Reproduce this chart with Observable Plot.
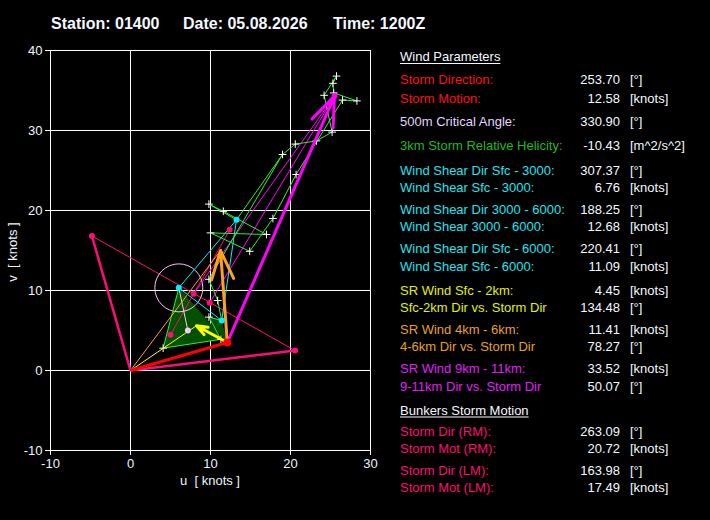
<!DOCTYPE html>
<html><head><meta charset="utf-8">
<script src="https://cdn.jsdelivr.net/npm/d3@7"></script>
<script src="https://cdn.jsdelivr.net/npm/@observablehq/plot@0.6"></script>
<style>
html,body{margin:0;padding:0;background:#000;}
#wrap{position:relative;width:710px;height:520px;background:#000;overflow:hidden;font-family:"Liberation Sans",Arial,sans-serif;}
#chart{position:absolute;left:0;top:0;}
svg.overlay{position:absolute;left:0;top:0;pointer-events:none;}
</style></head><body><div id="wrap"><div id="chart"></div></div>
<script>
// ---------- data ----------
const station = "01400", date = "05.08.2026", time = "1200Z";
const xTicks = [-10, 0, 10, 20, 30];
const yTicks = [-10, 0, 10, 20, 30, 40];
const xLabel = "u  [ knots ]", yLabel = "v  [ knots ]";

// wind hodograph (u, v in knots), with marker flag
const hodoU = [6.04, 4.08, 11.3, 9.8, 11.4, 10.9, 9.8, 19.0, 20.6, 23.25, 25.2, 24.2, 25.75, 25.3, 25.4, 28.3, 26.5, 20.7, 17.8, 14.9, 10.0, 17.0, 11.6, 9.8, 13.25, 19.0];
const hodoV = [10.33, 2.79, 3.9, 6.67, 6.25, 8.75, 11.4, 27.0, 28.3, 28.7, 29.8, 34.4, 36.8, 35.9, 34.7, 33.7, 33.8, 24.5, 19.0, 14.9, 17.2, 17.0, 19.9, 20.8, 18.83, 27.0];
const hodoMark = [0,1,1,1,0,1,1,1,1,1,1,1,1,1,1,1,1,1,1,1,1,1,1,1,0,0];

// key vectors
const sfcWind = [6.04, 10.33];
const wind3km = [11.4, 6.25];
const wind6km = [13.25, 18.83];
const stormMotion = [12.1, 3.5];
const bunkersRM = [20.57, 2.49];
const bunkersLM = [-4.82, 16.81];
const meanWinds = [[7.9, 9.6], [9.9, 8.46], [5.0, 4.46], [12.4, 17.58]];
const srSfc2km = [8.25, 5.6];
const sr4to6km = [11.25, 15.0];
const sr9to11km = [25.5, 34.3];
const critPoint = [7.17, 5.0];
const critCircleRadius = 3;

// text panel
const panelHeads = ["Wind Parameters", "Bunkers Storm Motion"];
const paramLabels = ["Storm Direction:", "Storm Motion:", "500m Critical Angle:", "3km Storm Relative Helicity:",
  "Wind Shear Dir Sfc - 3000:", "Wind Shear Sfc - 3000:", "Wind Shear Dir 3000 - 6000:", "Wind Shear 3000 - 6000:",
  "Wind Shear Dir Sfc - 6000:", "Wind Shear Sfc - 6000:", "SR Wind Sfc - 2km:", "Sfc-2km Dir vs. Storm Dir",
  "SR Wind 4km - 6km:", "4-6km Dir vs. Storm Dir", "SR Wind 9km - 11km:", "9-11km Dir vs. Storm Dir",
  "Storm Dir (RM):", "Storm Mot (RM):", "Storm Dir (LM):", "Storm Mot (LM):"];
const paramValues = ["253.70", "12.58", "330.90", "-10.43", "307.37", "6.76", "188.25", "12.68", "220.41", "11.09",
  "4.45", "134.48", "11.41", "78.27", "33.52", "50.07", "263.09", "20.72", "163.98", "17.49"];
const paramUnits = ["[°]", "[knots]", "[°]", "[m^2/s^2]", "[°]", "[knots]", "[°]", "[knots]", "[°]", "[knots]",
  "[knots]", "[°]", "[knots]", "[°]", "[knots]", "[°]", "[°]", "[knots]", "[°]", "[knots]"];

// ---------- styles / layout ----------
const C = {red: "#ff1010", lav: "#e4d4ff", green: "#22b822", cyan: "#22e4f0", yellow: "#e4f000",
  orange: "#e8a020", magenta: "#e020f4", crimson: "#ff0c70"};
const rowColors = [C.red, C.red, C.lav, C.green, C.cyan, C.cyan, C.cyan, C.cyan, C.cyan, C.cyan,
  C.yellow, C.yellow, C.orange, C.orange, C.magenta, C.magenta, C.crimson, C.crimson, C.crimson, C.crimson];
const rowBaselines = [84, 102.5, 126, 150, 174.5, 192, 213.5, 231, 252.5, 270.5, 294.5, 312, 333.5, 351, 372.5, 390.5, 435.5, 453, 474.5, 492];
const headBaselines = [61, 414.5];
const pxPerKnot = 8;

// ---------- build ----------
const P = (a) => ({u: a[0], v: a[1]});
const seg = (a, b) => ({u1: a[0], v1: a[1], u2: b[0], v2: b[1]});
const origin = [0, 0];
const hodo = hodoU.map((u, i) => ({u, v: hodoV[i], m: hodoMark[i]}));
const hodoPlus = hodo.filter(d => d.m);
const srhPoly = [stormMotion, sfcWind, [hodoU[1], hodoV[1]], [hodoU[2], hodoV[2]], [hodoU[3], hodoV[3]], wind3km].map(P);

const link = (segs, stroke, strokeWidth) => Plot.link(segs, {x1: "u1", y1: "v1", x2: "u2", y2: "v2", stroke, strokeWidth});
const arrow = (a, b, stroke) => Plot.arrow([seg(a, b)], {x1: "u1", y1: "v1", x2: "u2", y2: "v2", stroke, strokeWidth: 3, headLength: 16, headAngle: 42});

const chart = Plot.plot({
  width: 380, height: 520,
  marginLeft: 50, marginRight: 10, marginTop: 50, marginBottom: 70,
  x: {domain: [-10, 30]},
  y: {domain: [-10, 40]},
  style: {background: "black", color: "#eef4ff", fontSize: "13px", fontFamily: "'Liberation Sans', Arial, sans-serif"},
  marks: [
    Plot.ruleX(xTicks, {stroke: "white", strokeWidth: 1}),
    Plot.ruleY(yTicks, {stroke: "white", strokeWidth: 1}),
    Plot.axisX({ticks: xTicks, tickSize: 5, tickPadding: 3, stroke: "white", fill: "#eef4ff", label: null, tickFormat: d => String(d)}),
    Plot.axisY({ticks: yTicks, tickSize: 5, tickPadding: 3, stroke: "white", fill: "#eef4ff", label: null, tickFormat: d => String(d)}),
    Plot.line(srhPoly, {x: "u", y: "v", fill: "#005200", stroke: "none"}),
    link([seg(bunkersLM, bunkersRM), seg(meanWinds[2], meanWinds[3])], "#ff0c70", 1),
    Plot.dot([P(sfcWind)], {x: "u", y: "v", r: critCircleRadius * pxPerKnot, stroke: "#ffc0f0", fill: "none", strokeWidth: 1}),
    link([seg(sfcWind, critPoint)], "#ffc8f4", 1),
    link([seg(meanWinds[0], sr9to11km), seg(meanWinds[1], sr9to11km)], "#ff00ff", 1),
    link([seg(sfcWind, wind3km), seg(wind3km, wind6km), seg(wind6km, sfcWind)], "#00f0ff", 1),
    Plot.line(hodo, {x: "u", y: "v", stroke: "#30f030", strokeWidth: 1, strokeLinejoin: "miter"}),
    Plot.dot(hodoPlus, {x: "u", y: "v", symbol: "plus", r: 2.6, stroke: "white", fill: "none", strokeWidth: 1}),
    link([seg(origin, sr4to6km)], "#ffa020", 1),
    link([seg(origin, srSfc2km)], "#ffff00", 1),
    link([seg(origin, bunkersLM), seg(origin, bunkersRM)], "#ff0c78", 2.5),
    link([seg(origin, stormMotion)], "#ff0000", 3),
    arrow(stormMotion, sr9to11km, "#ff00ff"),
    arrow(stormMotion, sr4to6km, "#ffa020"),
    arrow(stormMotion, srSfc2km, "#ffff00"),
    Plot.dot([sfcWind, wind3km, wind6km].map(P), {x: "u", y: "v", r: 3, fill: "#00f0ff"}),
    Plot.dot(meanWinds.map(P), {x: "u", y: "v", r: 3, fill: "#ff0c70"}),
    Plot.dot([bunkersLM, bunkersRM].map(P), {x: "u", y: "v", r: 3, fill: "#ff0c78"}),
    Plot.dot([P(critPoint)], {x: "u", y: "v", r: 3, fill: "#ffc8f4"}),
    Plot.dot([P(stormMotion)], {x: "u", y: "v", r: 4, fill: "#ff0000"}),
    Plot.dot([P(sr9to11km)], {x: "u", y: "v", r: 3, fill: "#ff00ff"})
  ]
});
document.getElementById("chart").appendChild(chart);

// ---------- overlay text ----------
const svg = d3.select("#wrap").append("svg").attr("class", "overlay").attr("width", 710).attr("height", 520)
  .style("font-family", "'Liberation Sans', Arial, sans-serif");
const titleParts = ["Station: " + station, "Date: " + date, "Time: " + time];
const titleX = [51, 183, 333];
titleParts.forEach((t, i) => svg.append("text").attr("x", titleX[i]).attr("y", 29).attr("fill", "#f4f8ff")
  .attr("font-weight", "bold").attr("font-size", 16).text(t));
svg.append("text").attr("x", 210).attr("y", 485).attr("text-anchor", "middle").attr("fill", "#eef4ff")
  .attr("font-size", 13).style("white-space", "pre").text(xLabel);
svg.append("text").attr("transform", "translate(17,252) rotate(-90)").attr("text-anchor", "middle").attr("fill", "#eef4ff")
  .attr("font-size", 13).style("white-space", "pre").text(yLabel);

panelHeads.forEach((h, i) => {
  const t = svg.append("text").attr("x", 400).attr("y", headBaselines[i]).attr("fill", "#f4f8ff").attr("font-size", 13).text(h);
  const w = t.node().getComputedTextLength();
  svg.append("line").attr("x1", 400).attr("x2", 400 + w).attr("y1", headBaselines[i] + 2.5).attr("y2", headBaselines[i] + 2.5)
    .attr("stroke", "#f4f8ff").attr("stroke-width", 1);
});
paramLabels.forEach((l, i) => {
  const y = rowBaselines[i];
  svg.append("text").attr("x", 400).attr("y", y).attr("fill", rowColors[i]).attr("font-size", 13).text(l);
  svg.append("text").attr("x", 620).attr("y", y).attr("text-anchor", "end").attr("fill", "#f4f8ff").attr("font-size", 13).text(paramValues[i]);
  svg.append("text").attr("x", 630).attr("y", y).attr("fill", "#f4f8ff").attr("font-size", 13).text(paramUnits[i]);
});
</script></body></html>
